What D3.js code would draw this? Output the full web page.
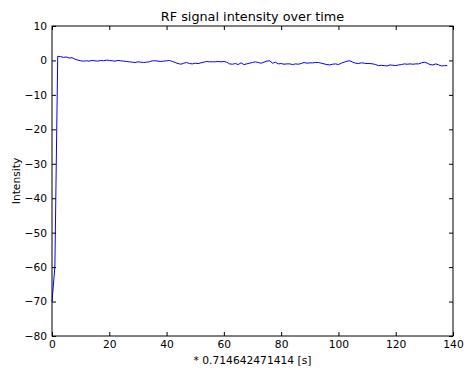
<!DOCTYPE html>
<html>
<head>
<meta charset="utf-8">
<script src="https://cdn.jsdelivr.net/npm/d3@7"></script>
<style>
  body { margin: 0; background: #fff; }
  text { font-family: "DejaVu Sans", sans-serif; }
</style>
</head>
<body>
<script>
// intensity samples, one per time step (x = index)
var intensity = [
  -70, -60, 1.2, 1.1, 0.9, 1.0, 0.7, 0.8, 0.4, 0.1,
  -0.1, -0.2, -0.1, -0.2, 0.0, -0.1, -0.2, 0.0, -0.1, 0.1,
  0.0, -0.1, -0.2, 0.0, -0.1, -0.2, -0.3, -0.4, -0.5, -0.6,
  -0.4, -0.5, -0.6, -0.5, -0.4, -0.1, -0.1, -0.2, -0.3, -0.2,
  -0.1, 0.0, -0.3, -0.6, -0.9, -1.1, -0.8, -0.6, -0.9, -1.0,
  -0.8, -0.9, -0.7, -0.5, -0.3, -0.4, -0.4, -0.4, -0.3, -0.4,
  -0.3, -0.5, -1.0, -1.1, -0.9, -1.2, -0.7, -1.2, -1.0, -0.8,
  -0.6, -0.4, -0.6, -0.8, -0.5, -0.2, -0.1, -0.8, -0.5, -1.0,
  -0.9, -1.1, -1.0, -1.0, -1.2, -1.0, -1.1, -0.9, -0.6, -0.8,
  -0.7, -0.7, -0.6, -0.6, -0.8, -1.0, -1.2, -1.3, -1.1, -1.0,
  -1.2, -0.8, -0.5, -0.2, -0.1, -0.5, -0.8, -0.9, -0.7, -0.8,
  -0.9, -0.9, -1.0, -1.2, -1.5, -1.4, -1.5, -1.6, -1.3, -1.4,
  -1.5, -1.3, -1.2, -1.0, -1.1, -1.0, -1.1, -1.0, -1.0, -0.7,
  -0.5, -0.8, -1.2, -1.3, -1.0, -1.3, -1.6, -1.5, -1.5
];
var xTicks = [0, 20, 40, 60, 80, 100, 120, 140];
var yTicks = [10, 0, -10, -20, -30, -40, -50, -60, -70, -80];
var title = "RF signal intensity over time";
var xLabel = "* 0.714642471414 [s]";
var yLabel = "Intensity";

var W = 464, H = 368;
var margin = { top: 26, right: 11, bottom: 32, left: 52 };
var w = W - margin.left - margin.right,
    h = H - margin.top - margin.bottom;

var svg = d3.select("body").append("svg").attr("width", W).attr("height", H);
var g = svg.append("g").attr("transform", "translate(" + [margin.left, margin.top] + ")");

var x = d3.scaleLinear().domain([0, 140]).range([0, w]);
var y = d3.scaleLinear().domain([-80, 10]).range([h, 0]);

var fmt = d => (d < 0 ? "\u2212" + Math.abs(d) : "" + d);

// data line
var line = d3.line().x((d, i) => x(i)).y(d => y(d));
g.append("path").datum(intensity)
  .attr("fill", "none").attr("stroke", "#0000ff").attr("stroke-width", 1)
  .attr("d", line);

// axes with inward ticks on all sides
function styleAxis(sel) {
  sel.select(".domain").remove();
  sel.selectAll(".tick line").attr("stroke", "#000");
  sel.selectAll(".tick text").attr("fill", "#000").attr("font-size", 10.7);
}
g.append("g").attr("transform", "translate(0," + h + ")")
  .call(d3.axisBottom(x).tickValues(xTicks).tickFormat(fmt).tickSizeInner(-4).tickSizeOuter(0).tickPadding(4))
  .call(styleAxis);
g.append("g")
  .call(d3.axisTop(x).tickValues(xTicks).tickFormat("").tickSizeInner(-4).tickSizeOuter(0))
  .call(styleAxis);
g.append("g")
  .call(d3.axisLeft(y).tickValues(yTicks).tickFormat(fmt).tickSizeInner(-4).tickSizeOuter(0).tickPadding(5))
  .call(styleAxis);
g.append("g").attr("transform", "translate(" + w + ",0)")
  .call(d3.axisRight(y).tickValues(yTicks).tickFormat("").tickSizeInner(-4).tickSizeOuter(0))
  .call(styleAxis);

// frame
g.append("rect").attr("width", w).attr("height", h)
  .attr("fill", "none").attr("stroke", "#000").attr("stroke-width", 1);

svg.append("text").attr("x", margin.left + w / 2).attr("y", 21)
  .attr("text-anchor", "middle").attr("font-size", 12.8).text(title);
svg.append("text").attr("x", margin.left + w / 2).attr("y", 364)
  .attr("text-anchor", "middle").attr("font-size", 10.7).text(xLabel);
svg.append("text").attr("transform", "translate(20," + (margin.top + h / 2) + ") rotate(-90)")
  .attr("text-anchor", "middle").attr("font-size", 10.7).text(yLabel);
</script>
</body>
</html>
